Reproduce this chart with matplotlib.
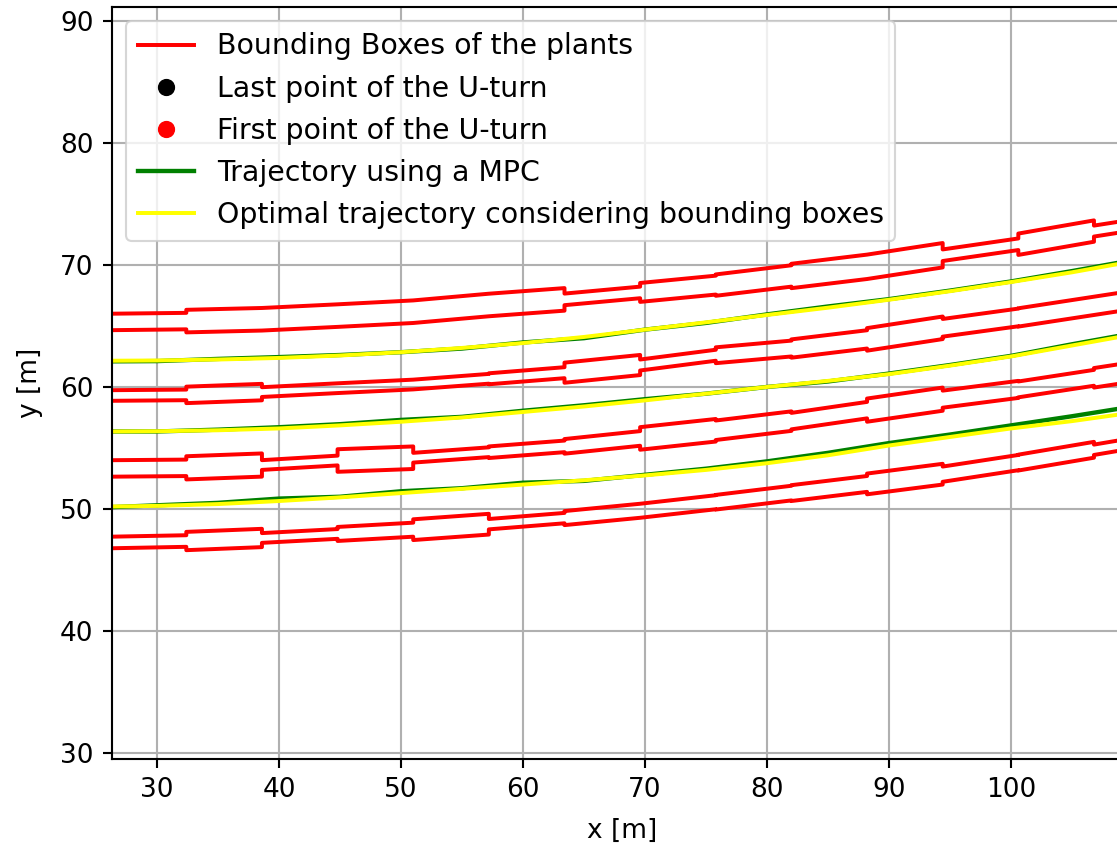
import matplotlib
matplotlib.use("Agg")
import matplotlib.pyplot as plt
import numpy as np

S = 1.9  # overall scale of the original figure
plt.rcParams['font.family'] = ['DejaVu Sans']
plt.rcParams['font.size'] = 10 * S

# ---- bounding boxes of the plants (4 rows) ----
box_edges_x = [26.2, 32.4, 38.6, 44.8, 51.0, 57.2, 63.4, 69.6, 75.8, 82.0, 88.2, 94.4, 100.6, 106.8, 113.0]

rowA_center = [65.33, 65.40, 65.55, 65.85, 66.17, 66.72, 67.18, 67.75, 68.35, 69.10, 69.85, 70.80, 71.70, 72.78, 73.75]
rowA_width = [1.35, 1.85, 1.85, 1.85, 1.85, 1.85, 0.95, 1.55, 1.75, 2.0, 2.0, 0.95, 1.75, 0.9]

rowB_center = [59.30, 59.35, 59.58, 59.90, 60.20, 60.67, 61.17, 61.80, 62.60, 63.15, 63.90, 64.85, 65.70, 66.65, 67.60]
rowB_width = [0.87, 1.35, 0.8, 0.8, 0.8, 0.9, 1.65, 0.9, 1.3, 1.5, 1.85, 1.45, 1.5, 1.5]

rowC_center = [53.32, 53.37, 53.60, 53.97, 54.20, 54.65, 55.13, 55.78, 56.45, 57.20, 58.10, 59.00, 59.80, 60.75, 61.70]
rowC_width = [1.35, 1.9, 0.8, 1.85, 0.8, 0.95, 1.2, 1.85, 1.6, 1.35, 1.9, 1.4, 1.3, 1.6]

rowD_center = [47.25, 47.37, 47.62, 47.95, 48.30, 48.75, 49.25, 49.85, 50.55, 51.30, 52.05, 52.85, 53.80, 54.85, 55.90]
rowD_width = [0.95, 1.5, 0.8, 1.15, 1.7, 0.85, 1.15, 1.15, 1.2, 1.3, 1.7, 1.25, 1.3, 0.85]

rows = [(rowA_center, rowA_width), (rowB_center, rowB_width),
        (rowC_center, rowC_width), (rowD_center, rowD_width)]

# ---- trajectories (3 passes between rows) ----
traj_x = [26.3, 30, 35, 40, 45, 50, 55, 60, 65, 70, 75, 80, 85, 90, 95, 100, 105, 110]

opt1 = [62.15, 62.17, 62.25, 62.38, 62.58, 62.85, 63.2, 63.6, 64.1, 64.7, 65.3, 65.9, 66.5, 67.15, 67.85, 68.6, 69.4, 70.3]
opt2 = [56.35, 56.37, 56.45, 56.6, 56.85, 57.15, 57.5, 57.95, 58.4, 58.9, 59.45, 60.0, 60.5, 61.05, 61.75, 62.5, 63.4, 64.3]
opt3 = [50.2, 50.25, 50.4, 50.65, 50.95, 51.3, 51.65, 52.0, 52.35, 52.75, 53.2, 53.75, 54.4, 55.2, 55.9, 56.6, 57.2, 57.9]

mpc1 = [62.1, 62.12, 62.3, 62.45, 62.62, 62.85, 63.15, 63.65, 64.0, 64.7, 65.25, 65.95, 66.6, 67.2, 67.9, 68.65, 69.5, 70.4]
mpc2 = [56.35, 56.35, 56.5, 56.7, 56.95, 57.3, 57.55, 58.05, 58.5, 59.0, 59.45, 60.0, 60.45, 61.1, 61.8, 62.55, 63.5, 64.4]
mpc3 = [50.15, 50.3, 50.5, 50.85, 51.0, 51.45, 51.7, 52.15, 52.3, 52.8, 53.3, 53.9, 54.6, 55.4, 56.1, 56.85, 57.6, 58.4]

# ---- U-turn points (beyond the visible area) ----
uturn_last_x = [114.5, 114.5, 114.5]
uturn_last_y = [62.0, 56.3, 50.4]
uturn_first_x = [114.0, 114.0, 114.0]
uturn_first_y = [70.8, 64.8, 58.4]

x_ticks = [30, 40, 50, 60, 70, 80, 90, 100]
y_ticks = [30, 40, 50, 60, 70, 80, 90]

W, H = 1117, 849
fig = plt.figure(figsize=(W / 100, H / 100), dpi=100)
ax = fig.add_axes([112 / W, (H - 759) / H, 1021 / W, 752 / H])

lw = 1.5 * S
first = True
for center, width in rows:
    ux, uy, lx, ly = [], [], [], []
    for i, w in enumerate(width):
        x0, x1 = box_edges_x[i], box_edges_x[i + 1]
        c0, c1 = center[i], center[i + 1]
        ux += [x0, x1]; uy += [c0 + w / 2, c1 + w / 2]
        lx += [x0, x1]; ly += [c0 - w / 2, c1 - w / 2]
    ax.plot(ux, uy, color='red', lw=lw, label='Bounding Boxes of the plants' if first else None)
    ax.plot(lx, ly, color='red', lw=lw)
    first = False

ax.plot(uturn_last_x, uturn_last_y, 'o', color='black', ms=6 * S, label='Last point of the U-turn')
ax.plot(uturn_first_x, uturn_first_y, 'o', color='red', ms=6 * S, label='First point of the U-turn')

for k, m in enumerate([mpc1, mpc2, mpc3]):
    ax.plot(traj_x, m, color='green', lw=lw * 1.1, label='Trajectory using a MPC' if k == 0 else None)
for k, o in enumerate([opt1, opt2, opt3]):
    ax.plot(traj_x, o, color='yellow', lw=lw,
            label='Optimal trajectory considering bounding boxes' if k == 0 else None)

ax.set_xlim(26.31, 110.0)
ax.set_ylim(29.5, 91.15)
ax.set_xticks(x_ticks)
ax.set_yticks(y_ticks)
ax.grid(True, color='#b0b0b0', lw=0.8 * S)
ax.set_axisbelow(True)
for sp in ax.spines.values():
    sp.set_linewidth(0.8 * S)
ax.tick_params(length=3.5 * S, width=0.8 * S, pad=3.5 * S, labelsize=10 * S)
ax.set_xlabel('x [m]', fontsize=10 * S, labelpad=4 * S + 3)
ax.set_ylabel('y [m]', fontsize=10 * S, labelpad=4 * S + 5)

leg = ax.legend(loc='upper left', fontsize=20.4, framealpha=0.8, borderaxespad=0.5)
leg.get_frame().set_linewidth(0.8 * S)

fig.savefig('out.png', dpi=100)
